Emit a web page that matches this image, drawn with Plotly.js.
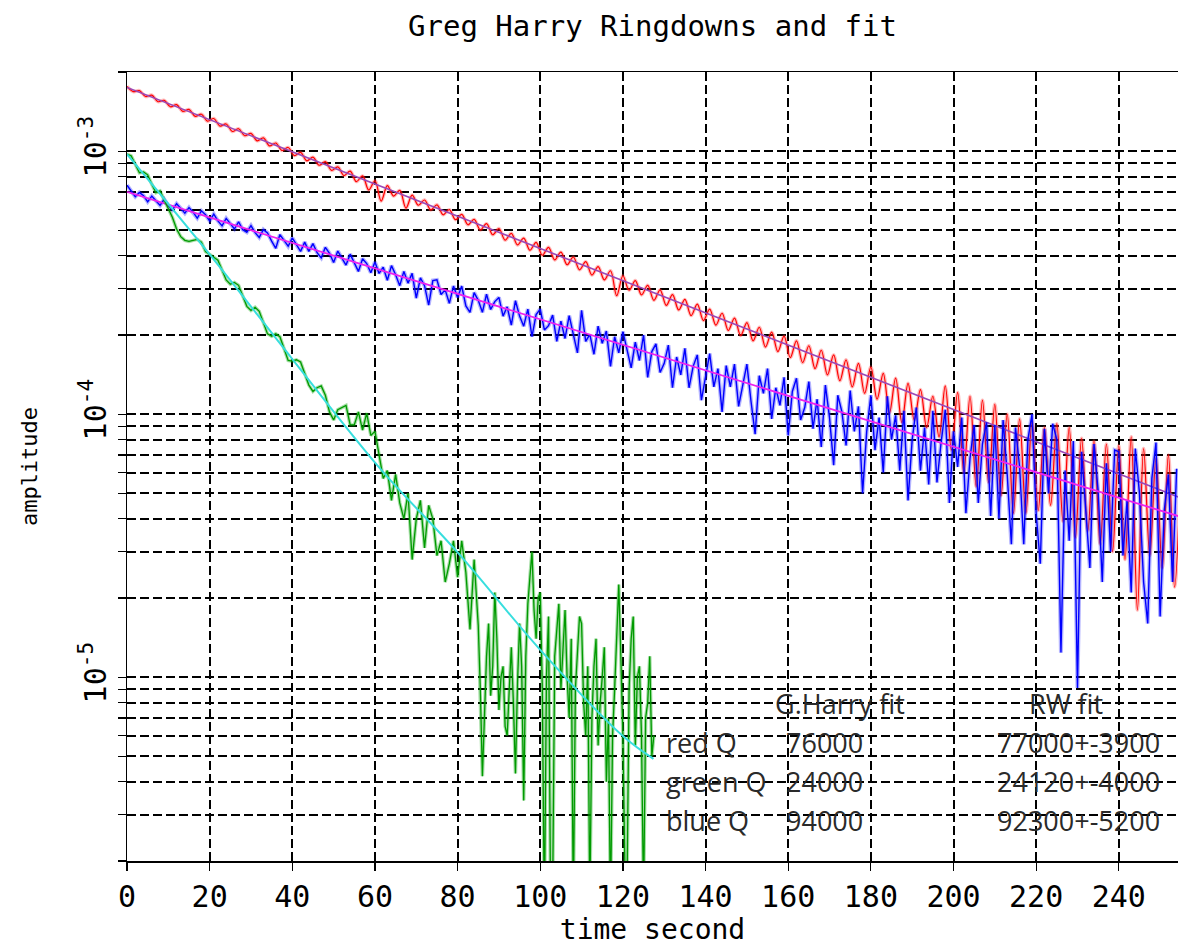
<!DOCTYPE html>
<html><head><meta charset="utf-8">
<script src="https://cdn.plot.ly/plotly-3.0.1.min.js"></script>
<style>html,body{margin:0;padding:0;background:#fff;} #chart{width:1178px;height:949px;}</style>
</head><body><div id="chart"></div>
<script>
// amplitudes are given in micro-units (x 1e-6)
const MICRO = 1e-6;

// red ringdown, sampled every 1.5 s from t = 0
const redStep = 1.5;
const redAmp = [
 1763,1684,1699,1614,1633,1542,1561,1475,1503,1417,
 1441,1356,1382,1300,1331,1246,1269,1188,1217,1145,
 1169,1095,1124,1047,1074,1006,1033,962,990,919,
 949,884,912,845,872,808,840,766,805,712,
 772,646,740,675,709,607,680,623,652,598,
 625,573,599,549,575,525,550,502,530,481,
 508,459,487,440,467,420,450,402,431,386,
 413,370,396,354,380,338,364,324,351,282,
 336,296,322,284,309,271,297,259,285,249,
 273,237,262,227,251,218,242,208,232,199,
 223,190,214,180,205,173,198,164,190,157,
 182,149,175,141,168,134,161,127,156,120,
 151,114,143,101,137,93,131,95,124,89,
 117,82,128,73,121,60,117,53,113,55,
 109,49,100,42,96,42,94,43,89,45,
 92,39,89,34,81,36,79,32,77,30,
 76,28,82,18,74,29,68,26,70,22,
 65
];

// blue ringdown, sampled every 1 s from t = 0
const blueStep = 1;
const blueAmp = [
 742,706,671,697,677,642,675,648,622,656,621,598,631,606,581,
 610,586,556,593,573,543,576,543,520,555,530,506,539,503,492,
 521,490,470,503,489,455,427,482,458,435,468,443,416,451,416,
 445,411,393,431,409,377,417,392,369,406,375,349,390,374,345,
 379,343,362,323,367,339,308,349,315,343,276,330,308,260,322,
 324,285,297,264,307,278,307,258,244,290,271,244,286,250,268,
 278,236,256,218,270,236,216,251,197,239,251,209,217,238,189,
 226,194,237,200,171,248,189,201,169,216,186,207,152,197,171,
 206,176,150,188,160,200,138,173,185,144,156,183,126,165,141,
 178,126,152,168,113,140,170,127,149,102,153,127,155,107,129,
 155,112,84,140,120,149,96,126,108,138,83,122,137,95,106,
 133,88,114,75,129,97,64,118,102,76,123,86,107,50,86,
 118,73,97,60,117,80,99,61,103,47,80,106,61,89,54,
 103,55,78,104,46,86,63,97,42,68,91,46,77,93,41,
 91,40,95,59,32,89,63,32,80,100,42,27,88,50,92,
 80,12.4,61,33,79,9.1,72,42,26,77,51,23,65,30,73,
 72,29,47,21,74,50,23,16,57,78,17,43,59,23,62
];

// green ringdown: t = 0..84 every 1 s, then t = 85..127.5 every 0.5 s
const greenEarlyStep = 1;
const greenEarlyAmp = [
 974,960,892,828,833,813,748,695,706,656,609,559,506,473,458,454,458,462,451,415,405,
 395,385,353,324,312,317,309,281,257,248,255,246,221,202,198,202,197,177,160,159,
 161,158,144,129,122,126,128,118,102,95,104,106,108,91,91,102,87,101,83,86,
 69,57,61,47,59,46,40,50,28,40,47,31,45,40,29,33,23,27,33,24,33,25,15.2,28
];
const greenLateStart = 85;
const greenLateStep = 0.5;
const greenLateAmp = [
 15.7,9,4.2,7,12,16,8.5,11,21,14,7.5,10,11,6.5,6,9,13,8,4.3,9.5,
 16,11,3.4,12,19,24,30,18,14,20,21,9,1.2,10,17,1.4,1.5,12,15,19,
 9,13,18,10,7,14,1.3,9,12,17,16,8,6,11,1.4,7,11,14,5.5,8,
 10,13,4,7,1.3,6,9,14,22.5,12,6,1.8,1.6,9,14,17,5.5,10,11,6,
 1.4,7,8,12,5,6
];

// fits
const redFitT = [0, 255];
const redFitAmp = [1746, 48.0];
const blueFitT = [0, 255];
const blueFitAmp = [700, 40.7];
const greenFitT = [0, 20, 40, 61, 80, 100, 120, 127.4];
const greenFitAmp = [974, 405, 162, 62.8, 29.8, 12.7, 5.97, 4.89];

// axis ticks
const xTickVals = [0,20,40,60,80,100,120,140,160,180,200,220,240];
const decadeVals = [1e-5, 1e-4, 1e-3];
const decadeLabels = ['10<sup>-5</sup>', '10<sup>-4</sup>', '10<sup>-3</sup>'];

// results table
const tableHeader = ['G.Harry fit', 'RW fit'];
const tableNames = ['red Q', 'green Q', 'blue Q'];
const tableGH = ['76000', '24000', '94000'];
const tableRW = ['77000+-3900', '24120+-4000', '92300+-5200'];

const toSI = a => a.map(v => v * MICRO);
const sampleTimes = (start, step, n) => Array.from({length:n}, (_, i) => start + i * step);

function line(x, amp, color, width, shape) {
  return {type:'scatter', mode:'lines', x:x, y:toSI(amp),
    line:{color:color, width:width, shape:shape||'linear', smoothing:1}, hoverinfo:'skip'};
}

// green: one continuous series built from the two sampled parts
const greenT = sampleTimes(0, greenEarlyStep, greenEarlyAmp.length)
  .concat(sampleTimes(greenLateStart, greenLateStep, greenLateAmp.length));
const greenAmp = greenEarlyAmp.concat(greenLateAmp);
const redT = sampleTimes(0, redStep, redAmp.length);
const blueT = sampleTimes(0, blueStep, blueAmp.length);

const traces = [
  line(redT, redAmp, 'rgba(255,60,60,0.35)', 3.5, 'spline'),
  line(redT, redAmp, '#ff0000', 1.2, 'spline'),
  line(redFitT, redFitAmp, '#9a48b8', 1.6),
  line(blueT, blueAmp, 'rgba(40,40,255,0.35)', 4),
  line(blueT, blueAmp, '#0000ff', 1.4),
  line(blueFitT, blueFitAmp, '#ee22ee', 1.8),
  line(greenT, greenAmp, 'rgba(0,160,0,0.35)', 3.5),
  line(greenT, greenAmp, '#009a00', 1.3),
  line(greenFitT, greenFitAmp, '#38dede', 2, 'spline')
];

// y tick values: decades plus 2..9 multiples, labels only on decades
const yTickVals = [], yTickText = [];
for (let e = -6; e <= -3; e++) {
  for (let m = 1; m <= 9; m++) {
    const v = m * Math.pow(10, e);
    if (v < 1.99e-6 || v > 2.01e-3) continue;
    yTickVals.push(v);
    const di = decadeVals.findIndex(d => Math.abs(d - v) / d < 1e-6);
    yTickText.push(di >= 0 ? decadeLabels[di] : '');
  }
}

const mono = 'DejaVu Sans Mono';
const L = 127, R = 1178, T = 72, B = 861;
const px = x => (x - L) / (R - L);
const py = y => (B - y) / (B - T);
const tf = {family:'Open Sans', size:27, color:'#2a2a2a'};

const annotations = [];
annotations.push({xref:'paper', yref:'paper', x:px(773), y:py(703), xanchor:'left', yanchor:'middle', text:tableHeader[0], showarrow:false, font:tf});
annotations.push({xref:'paper', yref:'paper', x:px(1027), y:py(703), xanchor:'left', yanchor:'middle', text:tableHeader[1], showarrow:false, font:tf});
const rowY = [742, 781, 820];
for (let i = 0; i < 3; i++) {
  annotations.push({xref:'paper', yref:'paper', x:px(664), y:py(rowY[i]), xanchor:'left', yanchor:'middle', text:tableNames[i], showarrow:false, font:tf});
  annotations.push({xref:'paper', yref:'paper', x:px(784), y:py(rowY[i]), xanchor:'left', yanchor:'middle', text:tableGH[i], showarrow:false, font:tf});
  annotations.push({xref:'paper', yref:'paper', x:px(1162), y:py(rowY[i]), xanchor:'right', yanchor:'middle', text:tableRW[i], showarrow:false, font:tf});
}

const layout = {
  width:1178, height:949,
  margin:{l:L, r:1178-R, t:T, b:949-B, pad:0},
  paper_bgcolor:'#ffffff', plot_bgcolor:'#ffffff',
  showlegend:false, hovermode:false,
  title:{text:'Greg Harry Ringdowns and fit', font:{family:mono, size:29, color:'#000'},
         x:0.5, xref:'paper', xanchor:'center', y:1-26/949, yref:'container', yanchor:'middle'},
  xaxis:{range:[0, (R-L)/4.1325], tickvals:xTickVals, ticktext:xTickVals.map(String),
    showgrid:true, gridcolor:'#000', griddash:'9px,4px', gridwidth:2,
    showline:true, linecolor:'#000', linewidth:1.5, mirror:true, zeroline:false,
    ticks:'outside', ticklen:8, tickwidth:1.3, tickcolor:'#000',
    tickfont:{family:mono, size:30, color:'#000'},
    title:{text:'time second', font:{family:mono, size:28, color:'#000'}, standoff:0}},
  yaxis:{type:'log', range:[Math.log10(2e-6), Math.log10(2e-3)],
    tickmode:'array', tickvals:yTickVals, ticktext:yTickText, tickangle:-90,
    showgrid:true, gridcolor:'#000', griddash:'9px,4px', gridwidth:2,
    showline:true, linecolor:'#000', linewidth:1.5, zeroline:false,
    ticks:'outside', ticklen:8, tickwidth:1.3, tickcolor:'#000',
    tickfont:{family:mono, size:30, color:'#000'},
    title:{text:'amplitude', font:{family:mono, size:22, color:'#000'}, standoff:30}},
  annotations:annotations
};

Plotly.newPlot('chart', traces, layout, {staticPlot:true, displayModeBar:false});
</script>
</body></html>
